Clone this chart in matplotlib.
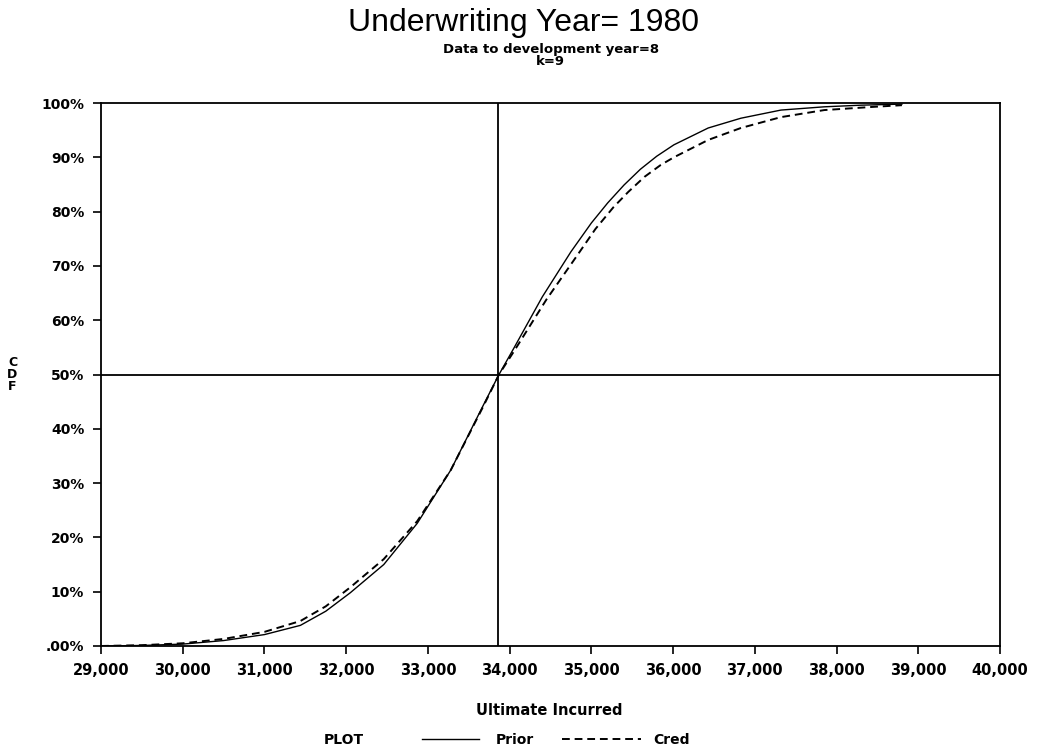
"""Underwriting Year 1980: CDF of ultimate incurred, prior vs credibility."""
import matplotlib
matplotlib.use("Agg")
import matplotlib.pyplot as plt
from matplotlib.lines import Line2D

# Prior CDF (solid)
prior_x = [29000, 29500, 30000, 30500, 31000, 31440, 31750, 32050, 32460,
           32870, 33280, 33680, 33870, 34050, 34400, 34750, 35000, 35200,
           35400, 35600, 35800, 36010, 36430, 36830, 37320, 37850, 38300,
           38800]
prior_y = [0.0, 0.1, 0.35, 1.0, 2.1, 3.8, 6.4, 9.8, 15.0,
           22.6, 32.4, 44.4, 50.0, 54.8, 64.3, 72.6, 77.9, 81.6,
           84.9, 87.8, 90.2, 92.3, 95.4, 97.2, 98.7, 99.3, 99.6,
           99.8]

# Credibility CDF (dashed)
cred_x = [29000, 29500, 30000, 30500, 31000, 31440, 31750, 32050, 32460,
          32870, 33280, 33680, 33870, 34050, 34450, 34830, 35050, 35270,
          35450, 35650, 35850, 36010, 36430, 36830, 37320, 37850, 38460,
          38800]
cred_y = [0.0, 0.15, 0.5, 1.3, 2.6, 4.6, 7.3, 10.8, 16.0,
          23.0, 32.4, 44.2, 50.0, 54.2, 63.8, 72.0, 76.8, 80.8,
          83.6, 86.4, 88.6, 90.0, 93.2, 95.4, 97.4, 98.7, 99.3,
          99.6]

median_x = 33860
x_ticks = list(range(29000, 40001, 1000))
x_labels = [f"{v:,}" for v in x_ticks]
y_ticks = list(range(0, 101, 10))
y_labels = [".00%"] + [f"{v}%" for v in y_ticks[1:]]

fig = plt.figure(figsize=(10.41, 7.53), dpi=100)
ax = fig.add_axes([0.097, 0.1421, 0.8636, 0.7211])

ax.plot(prior_x, prior_y, color="black", lw=1.0, ls="-")
ax.plot(cred_x, cred_y, color="black", lw=1.4, ls=(0, (4, 2.5)))

ax.axhline(50, color="black", lw=1.3)
ax.axvline(median_x, color="black", lw=1.3)

ax.set_xlim(29000, 40000)
ax.set_ylim(0, 100)
ax.set_xticks(x_ticks)
ax.set_xticklabels(x_labels, fontsize=10.5, fontweight="bold")
ax.set_yticks(y_ticks)
ax.set_yticklabels(y_labels, fontsize=10, fontweight="bold")
ax.tick_params(direction="out", length=6, width=1.2, pad=6)
for s in ax.spines.values():
    s.set_linewidth(1.3)

fig.text(0.503, 0.970, "Underwriting Year= 1980", ha="center", va="center",
         fontsize=23, family="Liberation Sans")
fig.text(0.529, 0.934, "Data to development year=8", ha="center", va="center",
         fontsize=9.5, fontweight="bold")
fig.text(0.529, 0.918, "k=9", ha="center", va="center",
         fontsize=9.5, fontweight="bold")

fig.text(0.012, 0.502, "C\nD\nF", ha="center", va="center", fontsize=9,
         fontweight="bold", linespacing=0.9)

fig.text(0.528, 0.057, "Ultimate Incurred", ha="center", va="center",
         fontsize=10.5, fontweight="bold")

# legend row
fig.text(0.33, 0.017, "PLOT", ha="center", va="center", fontsize=10, fontweight="bold")
fig.add_artist(Line2D([0.405, 0.46], [0.018, 0.018], color="black", lw=1.0))
fig.text(0.495, 0.017, "Prior", ha="center", va="center", fontsize=10, fontweight="bold")
fig.add_artist(Line2D([0.54, 0.616], [0.018, 0.018], color="black", lw=1.4,
                      ls=(0, (4, 2.5))))
fig.text(0.645, 0.017, "Cred", ha="center", va="center", fontsize=10, fontweight="bold")

fig.savefig("out.png", dpi=100)
